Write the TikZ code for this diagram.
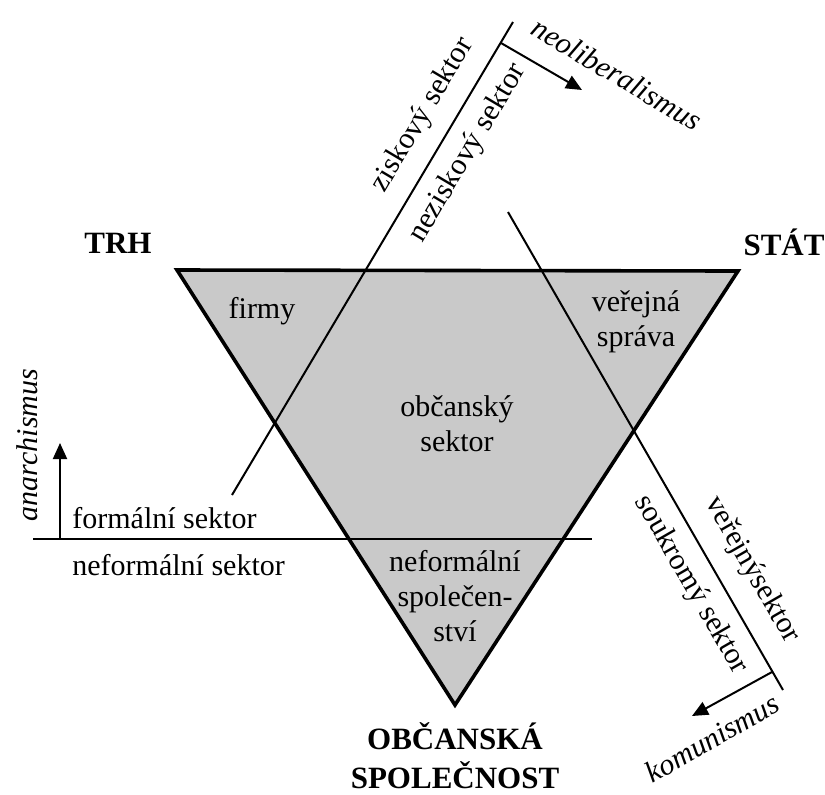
\documentclass[tikz,border=0pt]{standalone}
\usepackage{fontspec}
\setmainfont{Liberation Serif}
\usetikzlibrary{arrows.meta}
\begin{document}
\begin{tikzpicture}[x=0.5pt,y=0.5pt,
  lab/.style={inner sep=0pt,align=center,font=\fontsize{15}{17.5}\selectfont},
  big/.style={inner sep=0pt,align=center,font=\bfseries\fontsize{15.5}{19.5}\selectfont},
  ism/.style={inner sep=0pt,font=\itshape\fontsize{15}{17.5}\selectfont},
  arr/.style={-{Triangle[length=8pt,width=7pt]}}]
\useasboundingbox (0,0) rectangle (825,-794);
\coordinate (T1) at (177,-270);
\coordinate (T2) at (738,-271);
\coordinate (T3) at (455,-705);
\fill[black!21] (T1)--(T2)--(T3)--cycle;
\coordinate (Z1) at (232,-495);
\coordinate (Z2) at (513,-22);
\coordinate (Z3) at (501,-43);
\coordinate (Z4) at (582,-90);
\coordinate (V1) at (508,-212);
\coordinate (V2) at (783,-690);
\coordinate (V3) at (772,-672);
\coordinate (V4) at (692,-716);
\coordinate (F1) at (33,-539);
\coordinate (F2) at (592,-539);
\coordinate (F3) at (60,-539);
\coordinate (F4) at (60,-443);
\draw[line width=1pt] (Z1)--(Z2);
\draw[line width=1pt] (V1)--(V2);
\draw[line width=1pt] (F1)--(F2);
\draw[line width=1pt,arr] (Z3)--(Z4);
\draw[line width=1pt,arr] (V3)--(V4);
\draw[line width=1pt,arr] (F3)--(F4);
\draw[line width=1.8pt,line join=miter] (T1)--(T2)--(T3)--cycle;
\node[big,anchor=base] (trh) at (118,-253) {TRH};
\node[big,anchor=base] (stat) at (784,-255) {STÁT};
\node[big,anchor=south] (obcspol) at (455,-789) {OBČANSKÁ\\SPOLEČNOST};
\node[lab,anchor=base] (firmy) at (262,-318) {firmy};
\node[lab,anchor=south] (sprava) at (636,-353) {veřejná\\správa};
\node[lab,anchor=south] (obcsektor) at (457,-452) {občanský\\sektor};
\node[lab,anchor=south] (neformspol) at (455,-642) {neformální\\společen-\\ství};
\node[lab,anchor=base west] (formal) at (72,-528) {formální sektor};
\node[lab,anchor=base west] (neformal) at (72,-575) {neformální sektor};
\node[lab,rotate=59.3] (zisk) at (423,-115) {ziskový sektor};
\node[lab,rotate=59.3] (nezisk) at (468,-153) {neziskový sektor};
\node[lab,rotate=-60.1] (verej) at (752,-570) {veřejnýsektor};
\node[lab,rotate=-60.1] (soukr) at (691,-585) {soukromý sektor};
\node[ism,rotate=-30.7] (neolib) at (617,-74) {neoliberalismus};
\node[ism,rotate=29.9] (komun) at (712,-738) {komunismus};
\node[ism,rotate=90] (anarch) at (27,-445) {anarchismus};
\end{tikzpicture}
\end{document}
